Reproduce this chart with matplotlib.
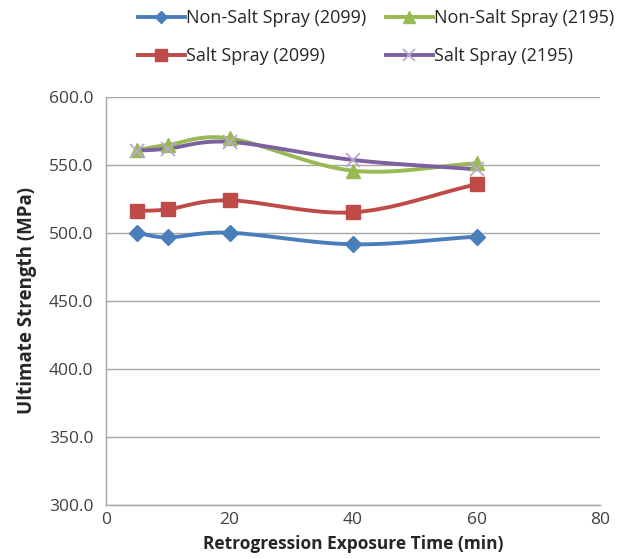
import numpy as np
import matplotlib
matplotlib.use("Agg")
import matplotlib.pyplot as plt
from matplotlib.lines import Line2D

plt.rcParams['font.family'] = ['Open Sans', 'DejaVu Sans']

# Retrogression exposure time (min)
time_min = [5, 10, 20, 40, 60]

# Ultimate strength (MPa)
non_salt_2099 = [500.2, 496.8, 500.2, 491.7, 497.3]
salt_2099 = [516.2, 517.4, 524.0, 515.2, 535.8]
non_salt_2195 = [561.0, 564.7, 569.6, 545.8, 551.2]
salt_2195 = [560.5, 562.0, 567.0, 553.7, 546.8]

labels = ["Non-Salt Spray (2099)", "Salt Spray (2099)",
          "Non-Salt Spray (2195)", "Salt Spray (2195)"]
y_ticks = [300, 350, 400, 450, 500, 550, 600]
x_ticks = [0, 20, 40, 60, 80]


def smooth(x, y, n=30):
    """Catmull-Rom curve through the points, like a spreadsheet smoothed line."""
    x = np.asarray(x, float)
    y = np.asarray(y, float)
    px = np.concatenate([[2 * x[0] - x[1]], x, [2 * x[-1] - x[-2]]])
    py = np.concatenate([[2 * y[0] - y[1]], y, [2 * y[-1] - y[-2]]])
    xs, ys = [], []
    t = np.linspace(0, 1, n)
    for i in range(1, len(px) - 2):
        for p, out in ((px, xs), (py, ys)):
            p0, p1, p2, p3 = p[i - 1], p[i], p[i + 1], p[i + 2]
            seg = 0.5 * ((2 * p1) + (-p0 + p2) * t +
                         (2 * p0 - 5 * p1 + 4 * p2 - p3) * t ** 2 +
                         (-p0 + 3 * p1 - 3 * p2 + p3) * t ** 3)
            out.extend(seg)
    return np.array(xs), np.array(ys)


fig = plt.figure(figsize=(6.33, 5.59), dpi=100)
ax = fig.add_axes([0.1675, 0.0966, 0.7805, 0.7299])

series = [
    (non_salt_2099, "#4A7EBB", "D", 8, {}),
    (salt_2099, "#BE4B48", "s", 10, {}),
    (non_salt_2195, "#98B954", "^", 10, {}),
    (salt_2195, "#7D60A0", "x", 10, {"markeredgecolor": "#B7A8CC", "markeredgewidth": 1.3}),
]

handles = []
for (vals, color, marker, ms, extra), label in zip(series, labels):
    sx, sy = smooth(time_min, vals)
    ax.plot(sx, sy, color=color, lw=2.8, solid_capstyle="round", zorder=3)
    mkw = dict(markerfacecolor=color, markeredgecolor=color)
    mkw.update(extra)
    ax.plot(time_min, vals, ls="none", marker=marker, ms=ms, zorder=4, **mkw)
    handles.append(Line2D([0], [0], color=color, lw=2.8, marker=marker,
                          ms=ms * 0.8, **mkw))

ax.set_xlim(0, 80)
ax.set_ylim(300, 600)
ax.set_xticks(x_ticks)
ax.set_yticks(y_ticks)
ax.set_yticklabels([f"{v:.1f}" for v in y_ticks])
ax.tick_params(axis="both", length=0, labelsize=12.5, colors="#404040", pad=5)
ax.tick_params(axis="y", pad=9)

ax.grid(axis="y", color="#A6A6A6", lw=1)
ax.set_axisbelow(True)
for side in ("top", "right"):
    ax.spines[side].set_visible(False)
for side in ("left", "bottom"):
    ax.spines[side].set_color("#A6A6A6")
    ax.spines[side].set_linewidth(1)

ax.set_xlabel("Retrogression Exposure Time (min)", fontsize=12.5, fontweight="bold",
              color="#262626", labelpad=5)
ax.set_ylabel("Ultimate Strength (MPa)", fontsize=13.5, fontweight="bold",
              color="#262626", labelpad=9)

fig.legend(handles=handles, labels=labels, ncol=2, loc="upper center",
           bbox_to_anchor=(0.594, 1.003), frameon=False, fontsize=13,
           handlelength=2.6, handletextpad=0.05, columnspacing=1.1,
           labelspacing=1.1, borderaxespad=0.2, labelcolor="#262626")

fig.savefig("out.png", dpi=100)
